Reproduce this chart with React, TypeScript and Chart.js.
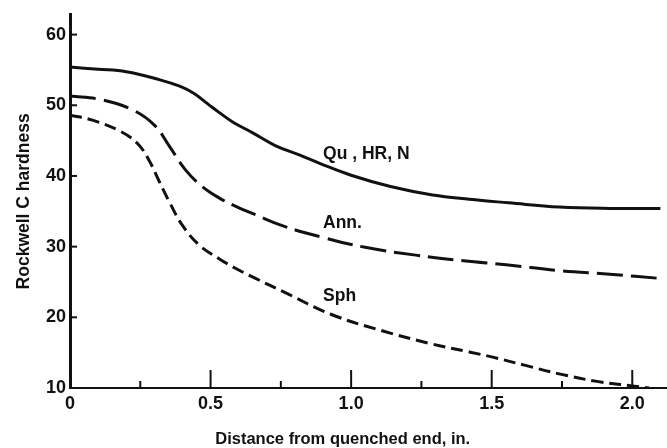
import React, { useEffect, useRef } from "react";
import { Chart, registerables } from "chart.js";

Chart.register(...registerables);

const quX = [0, 0.1, 0.2, 0.32, 0.39, 0.44, 0.49, 0.53, 0.58, 0.65, 0.73, 0.82, 0.89, 1.0, 1.14, 1.29, 1.42, 1.56, 1.74, 1.92, 2.1];
const quY = [55.4, 55.1, 54.75, 53.6, 52.7, 51.7, 50.2, 49.0, 47.6, 46.1, 44.3, 42.9, 41.75, 40.1, 38.5, 37.3, 36.7, 36.2, 35.6, 35.4, 35.4];

const annX = [0, 0.11, 0.22, 0.3, 0.355, 0.41, 0.47, 0.53, 0.59, 0.66, 0.76, 0.9, 1.05, 1.23, 1.4, 1.56, 1.74, 1.92, 2.1];
const annY = [51.3, 50.8, 49.4, 47.2, 44.1, 40.9, 38.5, 36.9, 35.7, 34.5, 32.9, 31.3, 29.9, 28.8, 28.0, 27.4, 26.6, 26.1, 25.5];

const sphX = [0, 0.08, 0.18, 0.24, 0.28, 0.32, 0.355, 0.4, 0.46, 0.53, 0.59, 0.66, 0.76, 0.93, 1.11, 1.29, 1.42, 1.5, 1.62, 1.74, 1.88, 2.0, 2.06];
const sphY = [48.6, 47.9, 46.3, 44.6, 42.3, 39.0, 36.2, 33.0, 30.2, 28.3, 26.9, 25.5, 23.6, 20.4, 18.1, 16.2, 15.1, 14.4, 13.2, 12.0, 10.9, 10.3, 10.0];

const seriesNames = ["Qu , HR, N", "Ann.", "Sph"];

const yTickValues = [10, 20, 30, 40, 50, 60];
const xTickValues = [0, 0.5, 1.0, 1.5, 2.0];
const xTickLabels = ["0", "0.5", "1.0", "1.5", "2.0"];
const xMinorTickValues = [0.25, 0.75, 1.25, 1.75];

const xTitle = "Distance from quenched end, in.";
const yTitle = "Rockwell C hardness";

// curve label anchors in data units
const labelX = [0.9, 0.9, 0.9];
const labelY = [43.1, 33.3, 23.0];

const FONT = "'Liberation Sans', Arial, sans-serif";
const INK = "#111";

function pts(xs: number[], ys: number[]) {
  return xs.map((x, i) => ({ x, y: ys[i] }));
}

export default function App() {
  const ref = useRef<HTMLCanvasElement>(null);

  useEffect(() => {
    if (!ref.current) return;

    const decor = {
      id: "decor",
      afterDraw(chart: any) {
        const ctx = chart.ctx;
        const xs = chart.scales.x;
        const ys = chart.scales.y;
        const base = ys.getPixelForValue(10);
        const left = xs.getPixelForValue(0);
        ctx.save();
        ctx.strokeStyle = INK;
        ctx.lineWidth = 2;
        yTickValues.forEach((v) => {
          const p = ys.getPixelForValue(v);
          ctx.beginPath();
          ctx.moveTo(left, p);
          ctx.lineTo(left + 7, p);
          ctx.stroke();
        });
        xTickValues.forEach((v) => {
          const p = xs.getPixelForValue(v);
          ctx.beginPath();
          ctx.moveTo(p, base);
          ctx.lineTo(p, base - 18);
          ctx.stroke();
        });
        xMinorTickValues.forEach((v) => {
          const p = xs.getPixelForValue(v);
          ctx.beginPath();
          ctx.moveTo(p, base);
          ctx.lineTo(p, base - 7);
          ctx.stroke();
        });
        ctx.fillStyle = INK;
        ctx.font = `bold 17.5px ${FONT}`;
        ctx.textBaseline = "middle";
        ctx.textAlign = "left";
        seriesNames.forEach((n, i) => {
          ctx.fillText(n, xs.getPixelForValue(labelX[i]), ys.getPixelForValue(labelY[i]));
        });
        // x-axis title (offset left of centre as in the original)
        ctx.font = `bold 16.5px ${FONT}`;
        ctx.textAlign = "center";
        ctx.fillText(xTitle, xs.getPixelForValue(0.97), 439);
        ctx.restore();
      },
    };

    const common = {
      borderColor: INK,
      borderWidth: 3,
      pointRadius: 0,
      tension: 0.4,
      fill: false,
    };

    const chart = new Chart(ref.current, {
      type: "line",
      data: {
        datasets: [
          { ...common, label: seriesNames[0], data: pts(quX, quY) },
          { ...common, label: seriesNames[1], data: pts(annX, annY), borderDash: [26, 8] },
          { ...common, label: seriesNames[2], data: pts(sphX, sphY), borderDash: [12, 6] },
        ],
      },
      options: {
        animation: false,
        responsive: false,
        events: [],
        layout: { padding: { top: 9, right: 1, left: 0, bottom: 0 } },
        plugins: {
          legend: { display: false },
          tooltip: { enabled: false },
        },
        scales: {
          x: {
            type: "linear",
            min: 0,
            max: 2.12,
            grid: { display: false, drawTicks: false },
            border: { display: true, color: INK, width: 2 },
            afterBuildTicks: (s: any) => {
              s.ticks = xTickValues.map((v) => ({ value: v }));
            },
            afterFit: (s: any) => {
              s.height = 60;
            },
            ticks: {
              color: INK,
              font: { family: FONT, size: 18, weight: "bold" },
              padding: 5,
              maxRotation: 0,
              autoSkip: false,
              callback: (v: any) => {
                const i = xTickValues.indexOf(Number(v));
                return i >= 0 ? xTickLabels[i] : "";
              },
            },
          },
          y: {
            type: "linear",
            min: 10,
            max: 62.8,
            grid: { display: false, drawTicks: false },
            border: { display: true, color: INK, width: 3 },
            afterBuildTicks: (s: any) => {
              s.ticks = yTickValues.map((v) => ({ value: v }));
            },
            afterFit: (s: any) => {
              s.width = 70;
            },
            ticks: {
              color: INK,
              font: { family: FONT, size: 18, weight: "bold" },
              padding: 4,
              callback: (v: any) => String(v),
            },
            title: {
              display: true,
              text: yTitle,
              color: INK,
              font: { family: FONT, size: 17.5, weight: "bold" },
              padding: { top: 14, bottom: 0 },
            },
          },
        },
      },
      plugins: [decor],
    } as any);

    return () => chart.destroy();
  }, []);

  return (
    <div style={{ position: "absolute", left: 0, top: 0, width: 667, height: 448, background: "#fff" }}>
      <canvas ref={ref} width={667} height={448} style={{ display: "block" }} />
    </div>
  );
}
